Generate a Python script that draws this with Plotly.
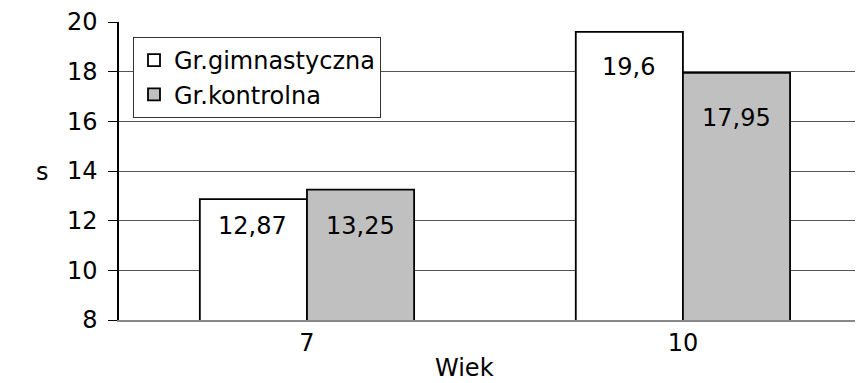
import plotly.graph_objects as go

categories = ["7", "10"]
series_names = ["Gr.gimnastyczna", "Gr.kontrolna"]
gimnastyczna = [12.87, 19.6]
kontrolna = [13.25, 17.95]
y_ticks = [8, 10, 12, 14, 16, 18, 20]

FONT = "DejaVu Sans, Verdana, sans-serif"
FS = 24

# the page body adds an 8px offset; the figure is laid out in its own coordinates
OFF = 8
W, H = 863 - OFF, 383 - OFF
PL, PT, PB = 119 - OFF, 22 - OFF, 320 - OFF
PW, PH = W - PL, PB - PT

fig = go.Figure()
fig.add_trace(go.Bar(x=categories, y=gimnastyczna, name=series_names[0],
                     marker=dict(color="#ffffff", line=dict(color="#000000", width=1.8))))
fig.add_trace(go.Bar(x=categories, y=kontrolna, name=series_names[1],
                     marker=dict(color="#c0c0c0", line=dict(color="#000000", width=1.8))))

# value labels inside bars
label_shift = [[-27, -35], [-36, -45]]
group_shift = [-54, 54]
for si, vals in enumerate([gimnastyczna, kontrolna]):
    for ci, v in enumerate(vals):
        fig.add_annotation(x=ci, y=v, xref="x", yref="y",
                           text=f"{v:g}".replace(".", ","),
                           showarrow=False, xshift=group_shift[si], yshift=label_shift[si][ci],
                           font=dict(family=FONT, size=FS, color="#000000"))

fig.add_annotation(x=-77/PW, y=(320 - 172)/PH, xref="paper", yref="paper", text="s",
                   showarrow=False, xanchor="center", yanchor="middle",
                   font=dict(family=FONT, size=FS, color="#000000"))
fig.add_annotation(x=(464 - 119)/PW, y=-(368 - 320)/PH, xref="paper", yref="paper", text="Wiek",
                   showarrow=False, xanchor="center", yanchor="middle",
                   font=dict(family=FONT, size=FS, color="#000000"))

fig.update_layout(
    width=W, height=H,
    margin=dict(l=PL, r=0, t=PT, b=H - PB, autoexpand=False),
    paper_bgcolor="#ffffff", plot_bgcolor="#ffffff",
    barmode="group", bargap=0.43, bargroupgap=0,
    font=dict(family=FONT, size=FS, color="#000000"),
    showlegend=True,
    legend=dict(x=14/PW, y=(320 - 37)/PH, xanchor="left", yanchor="top",
                bordercolor="#333333", borderwidth=1, bgcolor="#ffffff",
                font=dict(family=FONT, size=FS), tracegroupgap=0,
                itemwidth=30),
    xaxis=dict(type="category", range=[-0.5, 1.479], showgrid=False, automargin=False,
               showline=True, linecolor="#888888", linewidth=2, ticks="",
               tickfont=dict(family=FONT, size=FS)),
    yaxis=dict(range=[8, 20], tickvals=y_ticks, showgrid=True, gridcolor="#555555",
               gridwidth=1, showline=True, linecolor="#000000", linewidth=1.5,
               ticks="outside", ticklen=9, tickcolor="#000000", zeroline=False,
               ticklabelstandoff=6,
               automargin=False, tickfont=dict(family=FONT, size=FS)),
)

fig.write_html("out.html")
